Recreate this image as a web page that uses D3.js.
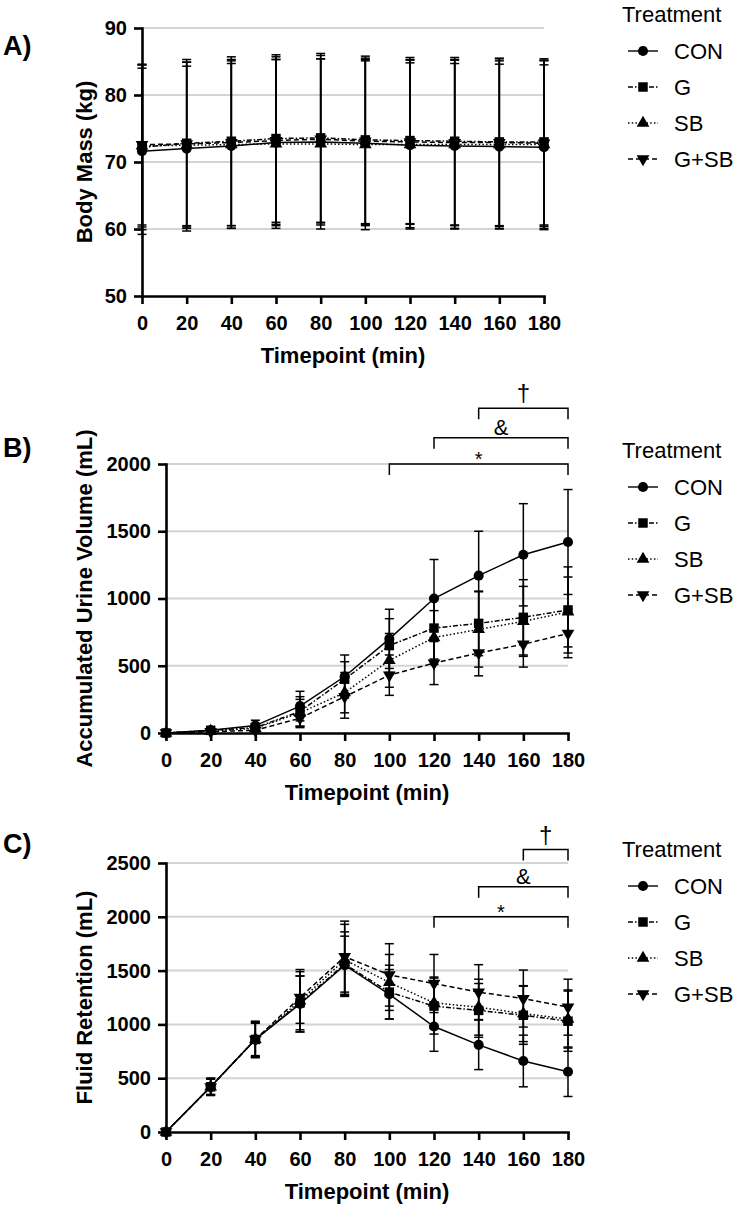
<!DOCTYPE html>
<html>
<head>
<meta charset="utf-8">
<script src="https://cdn.jsdelivr.net/npm/d3@7"></script>
<style>
  body { margin: 0; background: #fff; }
  text { font-family: "Liberation Sans", Arial, sans-serif; fill: #000; }
</style>
</head>
<body>
<div id="chart"></div>
<script>
const timepoints = [0, 20, 40, 60, 80, 100, 120, 140, 160, 180];
const treatments = ["CON", "G", "SB", "G+SB"];

// rows follow the treatments order
const massMeans = [
  [71.6, 72.0, 72.4, 72.9, 73.0, 72.8, 72.5, 72.4, 72.3, 72.2],
  [72.2, 72.8, 73.1, 73.5, 73.6, 73.3, 73.2, 73.1, 73.0, 73.0],
  [72.4, 72.5, 72.6, 72.7, 72.7, 72.6, 72.6, 72.6, 72.6, 72.6],
  [72.6, 72.7, 72.9, 73.2, 73.4, 73.1, 73.0, 72.9, 72.9, 72.8]
];
const massSD = [
  [12.4, 12.3, 12.3, 12.4, 12.4, 12.3, 12.3, 12.3, 12.3, 12.3],
  [12.3, 12.5, 12.6, 12.5, 12.6, 12.5, 12.4, 12.5, 12.5, 12.4],
  [12.1, 12.4, 12.5, 12.6, 12.7, 12.7, 12.6, 12.6, 12.5, 12.5],
  [12.0, 12.2, 12.4, 12.5, 12.5, 12.4, 12.3, 12.4, 12.5, 12.4]
];
const massTicks = [50, 60, 70, 80, 90];

const urineMeans = [
  [0, 20, 55, 200, 420, 700, 1000, 1170, 1325, 1420],
  [0, 20, 40, 160, 400, 650, 780, 815, 860, 915],
  [0, 15, 35, 150, 300, 540, 710, 770, 830, 900],
  [0, 10, 20, 110, 270, 430, 520, 595, 660, 740]
];
const urineSD = [
  [0, 10, 40, 110, 160, 220, 290, 330, 380, 390],
  [0, 10, 30, 110, 130, 200, 230, 240, 280, 320],
  [0, 10, 30, 100, 150, 200, 200, 280, 260, 260],
  [0, 10, 20, 70, 160, 150, 160, 170, 170, 180]
];
const urineTicks = [0, 500, 1000, 1500, 2000];
const urineBrackets = [
  { from: 100, to: 180, level: 2000, label: "*" },
  { from: 120, to: 180, level: 2195, label: "&" },
  { from: 140, to: 180, level: 2415, label: "†" }
];

const retentionMeans = [
  [0, 420, 860, 1190, 1550, 1280, 980, 810, 660, 560],
  [0, 420, 860, 1200, 1560, 1300, 1170, 1130, 1085, 1030],
  [0, 420, 860, 1220, 1600, 1390, 1200, 1160, 1100, 1050],
  [0, 420, 860, 1250, 1630, 1460, 1380, 1300, 1240, 1160]
];
const retentionSD = [
  [0, 80, 160, 260, 270, 230, 230, 230, 240, 230],
  [0, 70, 150, 250, 300, 250, 260, 250, 270, 280],
  [0, 75, 160, 290, 330, 260, 240, 260, 260, 270],
  [0, 80, 170, 240, 330, 290, 270, 255, 265, 260]
];
const retentionTicks = [0, 500, 1000, 1500, 2000, 2500];
const retentionBrackets = [
  { from: 120, to: 180, level: 2000, label: "*" },
  { from: 140, to: 180, level: 2280, label: "&" },
  { from: 160, to: 180, level: 2625, label: "†" }
];

const dashes = [null, "5,2,1.5,2", "1.5,2.2", "5,3"];
const symbols = [d3.symbolCircle, d3.symbolSquare, d3.symbolTriangle, d3.symbolTriangle];
const symbolSizes = [80, 90, 70, 70];
const labelStyle = { "*": [20, 2], "&": [22, -3], "†": [24, -7] };

const plotW = 402;

const svg = d3.select("#chart")
    .append("svg")
    .attr("width", 746)
    .attr("height", 1206);

function marker(sel, i) {
    sel.attr("d", d3.symbol().type(symbols[i]).size(symbolSizes[i]))
        .attr("fill", "#000");
}

function drawPanel(p) {
    const g = svg.append("g").attr("transform", `translate(${p.left}, ${p.top})`);

    const x = d3.scaleLinear().domain([0, 180]).range([0, plotW]);
    const y = d3.scaleLinear().domain([p.ticks[0], p.ticks[p.ticks.length - 1]]).range([p.height, 0]);

    // grid
    g.append("g").selectAll("line")
        .data(p.ticks.slice(1))
        .join("line")
        .attr("x1", 0).attr("x2", plotW)
        .attr("y1", d => y(d)).attr("y2", d => y(d))
        .attr("stroke", "#d4d4d4")
        .attr("stroke-width", 2);

    // significance brackets
    (p.brackets || []).forEach(b => {
        const yy = y(b.level);
        g.append("path")
            .attr("d", `M${x(b.from)},${yy + 11}V${yy}H${x(b.to)}V${yy + 11}`)
            .attr("fill", "none")
            .attr("stroke", "#000")
            .attr("stroke-width", 1.5);
        const st = labelStyle[b.label];
        g.append("text")
            .attr("x", x((b.from + b.to) / 2))
            .attr("y", yy + st[1])
            .attr("text-anchor", "middle")
            .style("font-size", st[0] + "px")
            .text(b.label);
    });

    const line = d3.line()
        .x(d => x(d.t))
        .y(d => y(d.m));

    treatments.forEach((name, i) => {
        const pts = timepoints.map((t, j) => ({ t: t, m: p.means[i][j], s: p.sd[i][j] }));
        const eg = g.append("g").attr("stroke", "#000").attr("stroke-width", 1.5);
        pts.filter(d => d.s > 0).forEach(d => {
            eg.append("line")
                .attr("x1", x(d.t)).attr("x2", x(d.t))
                .attr("y1", y(d.m - d.s)).attr("y2", y(d.m + d.s));
            [d.m - d.s, d.m + d.s].forEach(v => {
                eg.append("line")
                    .attr("x1", x(d.t) - 4.5).attr("x2", x(d.t) + 4.5)
                    .attr("y1", y(v)).attr("y2", y(v));
            });
        });
    });

    treatments.forEach((name, i) => {
        const pts = timepoints.map((t, j) => ({ t: t, m: p.means[i][j] }));
        g.append("path")
            .datum(pts)
            .attr("d", line)
            .attr("fill", "none")
            .attr("stroke", "#000")
            .attr("stroke-width", 1.5)
            .attr("stroke-dasharray", dashes[i]);
        g.append("g").selectAll("path")
            .data(pts)
            .join("path")
            .attr("transform", d => `translate(${x(d.t)}, ${y(d.m)})` + (i === 3 ? " rotate(180)" : ""))
            .call(marker, i);
    });

    // axes
    const xAxis = g.append("g")
        .attr("transform", `translate(0, ${p.height})`)
        .call(d3.axisBottom(x).tickValues(timepoints).tickFormat(d3.format("d"))
            .tickSize(8).tickSizeOuter(0).tickPadding(12));
    const yAxis = g.append("g")
        .call(d3.axisLeft(y).tickValues(p.ticks).tickFormat(d3.format("d"))
            .tickSize(8).tickSizeOuter(0).tickPadding(7));
    [xAxis, yAxis].forEach(a => {
        a.select(".domain").attr("stroke-width", 2.6).attr("stroke-linecap", "square");
        a.selectAll(".tick line").attr("stroke-width", 2.6);
        a.selectAll("text")
            .style("font-family", "'Liberation Sans', Arial, sans-serif")
            .style("font-size", "20px")
            .style("font-weight", "bold")
            .attr("fill", "#000");
    });

    g.append("text")
        .attr("x", plotW / 2)
        .attr("y", p.height + 67)
        .attr("text-anchor", "middle")
        .style("font-size", "22px")
        .style("font-weight", "bold")
        .text("Timepoint (min)");

    svg.append("text")
        .attr("transform", `translate(92, ${p.top + p.height / 2}) rotate(-90)`)
        .attr("text-anchor", "middle")
        .style("font-size", "22px")
        .style("font-weight", "bold")
        .text(p.title);

    svg.append("text")
        .attr("x", 3)
        .attr("y", p.labelY)
        .style("font-size", "27px")
        .style("font-weight", "bold")
        .text(p.label);

    // legend
    const lg = svg.append("g").attr("transform", `translate(622, ${p.top})`);
    lg.append("text")
        .attr("x", 0).attr("y", -6)
        .style("font-size", "22px")
        .text("Treatment");
    treatments.forEach((name, i) => {
        const ly = 23 + i * 36;
        lg.append("line")
            .attr("x1", 6).attr("x2", 36)
            .attr("y1", ly).attr("y2", ly)
            .attr("stroke", "#000")
            .attr("stroke-width", 1.4)
            .attr("stroke-dasharray", dashes[i]);
        lg.append("path")
            .attr("transform", `translate(21, ${ly})` + (i === 3 ? " rotate(180)" : ""))
            .call(marker, i);
        lg.append("text")
            .attr("x", 52).attr("y", ly + 8)
            .style("font-size", "22px")
            .text(name);
    });
}

drawPanel({ label: "A)", labelY: 55, left: 142, top: 28, height: 268,
    means: massMeans, sd: massSD, ticks: massTicks, title: "Body Mass (kg)" });
drawPanel({ label: "B)", labelY: 457, left: 166, top: 464, height: 269,
    means: urineMeans, sd: urineSD, ticks: urineTicks, title: "Accumulated Urine Volume (mL)",
    brackets: urineBrackets });
drawPanel({ label: "C)", labelY: 853, left: 166, top: 863, height: 269,
    means: retentionMeans, sd: retentionSD, ticks: retentionTicks, title: "Fluid Retention (mL)",
    brackets: retentionBrackets });
</script>
</body>
</html>
